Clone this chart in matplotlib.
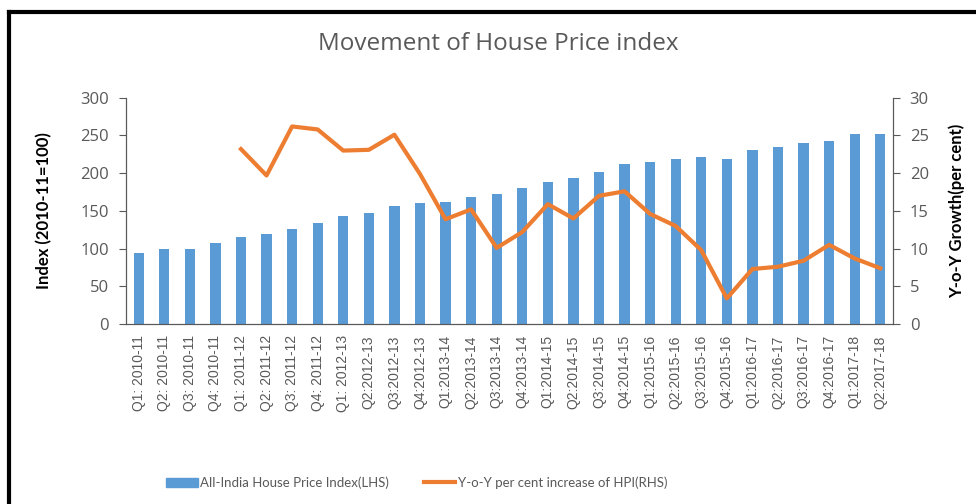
import matplotlib.pyplot as plt
from matplotlib.lines import Line2D

plt.rcParams["font.family"] = ["Lato", "DejaVu Sans"]

quarters = [
    "Q1: 2010-11", "Q2: 2010-11", "Q3: 2010-11", "Q4: 2010-11",
    "Q1: 2011-12", "Q2: 2011-12", "Q3: 2011-12", "Q4: 2011-12",
    "Q1: 2012-13", "Q2:2012-13", "Q3:2012-13", "Q4:2012-13",
    "Q1:2013-14", "Q2:2013-14", "Q3:2013-14", "Q4:2013-14",
    "Q1:2014-15", "Q2:2014-15", "Q3:2014-15", "Q4:2014-15",
    "Q1:2015-16", "Q2:2015-16", "Q3:2015-16", "Q4:2015-16",
    "Q1:2016-17", "Q2:2016-17", "Q3:2016-17", "Q4:2016-17",
    "Q1:2017-18", "Q2:2017-18",
]
hpi = [94, 100, 100, 107, 116, 120, 126, 134, 143, 147, 157, 161,
       162, 169, 173, 180, 188, 193, 202, 212, 215, 219, 222, 219,
       231, 235, 240, 243, 252, 252]
# growth series starts at Q1: 2011-12
yoy = [23.2, 19.7, 26.2, 25.8, 23.0, 23.1, 25.1, 19.9, 13.9, 15.2, 10.1,
       12.2, 15.9, 14.0, 17.0, 17.6, 14.6, 13.0, 9.8, 3.4, 7.3, 7.6,
       8.4, 10.5, 8.7, 7.4]

grey = "#595959"
blue = "#5B9BD5"
orange = "#ED7D31"

fig = plt.figure(figsize=(9.76, 5.04), dpi=100)
ax = fig.add_axes([0.129, 0.357, 0.786, 0.449])
ax2 = ax.twinx()

x = list(range(len(quarters)))
ax.bar(x, hpi, width=0.4, color=blue, zorder=2)
ax2.plot(x[4:], yoy, color=orange, lw=3, solid_joinstyle="round", zorder=3)

ax.set_xlim(-0.5, len(quarters) - 0.5)
ax.set_ylim(0, 300)
ax.set_yticks(range(0, 301, 50))
ax2.set_ylim(0, 30)
ax2.set_yticks(range(0, 31, 5))
ax.set_xticks(x)
ax.set_xticklabels(quarters, rotation=90, fontsize=10, color=grey,
                   family="Liberation Sans")
ax.tick_params(axis="x", length=0, pad=8)
for a in (ax, ax2):
    a.tick_params(axis="y", labelcolor=grey, color=grey, length=5, pad=7)
    for lab in a.get_yticklabels():
        lab.set_family("Open Sans")
        lab.set_fontsize(12)
    a.spines["top"].set_visible(False)
    for s in ("left", "right", "bottom"):
        a.spines[s].set_color(grey)

ax.set_ylabel("Index (2010-11=100)", fontsize=12, fontweight="bold", labelpad=20)
ax2.set_ylabel("Y-o-Y Growth(per cent)", fontsize=12, fontweight="bold", labelpad=14)

fig.text(0.511, 0.913, "Movement of House Price index", ha="center", va="center",
         fontsize=17.5, color=grey, family="Open Sans")

handles = [
    plt.Rectangle((0, 0), 1, 1, color=blue),
    Line2D([0], [0], color=orange, lw=3),
]
fig.legend(handles, ["All-India House Price Index(LHS)",
                     "Y-o-Y per cent increase of HPI(RHS)"],
           loc="center", bbox_to_anchor=(0.427, 0.042), ncol=2, frameon=False,
           fontsize=9.5, labelcolor=grey, columnspacing=2.6, handlelength=2.4,
           handletextpad=0.2)

# frame lines like the source image
fig.add_artist(Line2D([0.009, 1.0], [0.977, 0.977], color="black", lw=3,
                      transform=fig.transFigure))
fig.add_artist(Line2D([0.0095, 0.0095], [0.0, 0.977], color="black", lw=3,
                      transform=fig.transFigure))

fig.savefig("out.png", dpi=100)
